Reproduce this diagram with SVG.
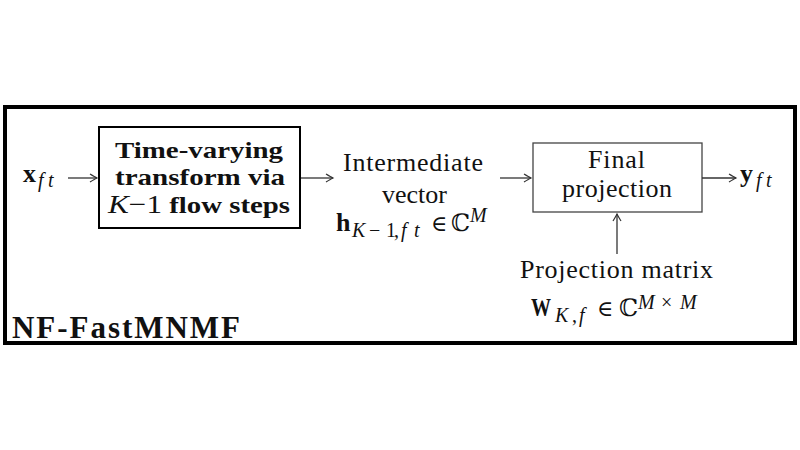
<svg xmlns="http://www.w3.org/2000/svg" width="800" height="450" viewBox="0 0 800 450" font-family="'Liberation Serif','DejaVu Serif',serif">
<style>
text{font-family:'Liberation Serif','DejaVu Serif',serif;fill:#111}
.rm{font-size:26px}
.bf{font-size:24px;font-weight:bold}
.sub{font-size:20px;font-style:italic}
.up{font-style:normal}
.mb{font-size:26px;font-weight:bold}
.edge{stroke:#333;stroke-width:1.3;fill:none;marker-end:url(#ah)}
</style>
<defs>
<marker id="ah" viewBox="-8 -5 10 10" refX="0" refY="0" markerWidth="10" markerHeight="10" markerUnits="userSpaceOnUse" orient="auto">
<path d="M-7,-4 Q-2,-1 0,0 Q-2,1 -7,4" fill="none" stroke="#333" stroke-width="1.2"/>
</marker>
</defs>
<rect width="800" height="450" fill="#fff"/>
<g id="frame">
<rect x="5" y="107" width="790" height="236" fill="none" stroke="#000" stroke-width="4"/>
<text x="12" y="338" style="font-size:31px;font-weight:bold" textLength="228" lengthAdjust="spacing">NF-FastMNMF</text>
</g>
<g id="input">
<text x="23" y="182" class="mb">x</text>
<text x="38 48" y="187" class="sub">ft</text>
</g>
<g id="transform">
<rect x="99" y="127" width="201" height="101" fill="#fff" stroke="#000" stroke-width="2"/>
<text x="115" y="158" class="bf" textLength="168" lengthAdjust="spacingAndGlyphs">Time-varying</text>
<text x="115" y="185" class="bf" textLength="170" lengthAdjust="spacingAndGlyphs">transform via</text>
<text x="108" y="213" class="bf" textLength="182" lengthAdjust="spacingAndGlyphs"><tspan style="font-weight:normal;font-style:italic;font-size:26px">K</tspan><tspan style="font-weight:normal;font-size:26px">−1</tspan> flow steps</text>
</g>
<g id="intermediate">
<text x="343" y="171" class="rm" textLength="140" lengthAdjust="spacing">Intermediate</text>
<text x="382" y="203" class="rm" textLength="65" lengthAdjust="spacing">vector</text>
<text x="336" y="231" class="mb">h</text>
<text x="352 369 386 394 401 414" y="237" class="sub">K<tspan class="up">−1,</tspan>ft</text>
<text x="431" y="231" style="font-size:22px">∈</text>
<text x="451" y="231" style="font-size:24px">ℂ</text>
<text x="470" y="222" class="sub">M</text>
</g>
<g id="projection">
<rect x="533" y="143" width="169" height="69" fill="#fff" stroke="#444" stroke-width="1.3"/>
<text x="588" y="168" class="rm" textLength="57" lengthAdjust="spacing">Final</text>
<text x="562" y="197" class="rm" textLength="110" lengthAdjust="spacing">projection</text>
</g>
<g id="matrix">
<text x="520" y="278" class="rm" textLength="193" lengthAdjust="spacing">Projection matrix</text>
<text x="531" y="316" style="font-size:25px;font-weight:bold" textLength="20" lengthAdjust="spacingAndGlyphs">W</text>
<text x="555 572 579" y="322" class="sub">K<tspan class="up">,</tspan>f</text>
<text x="597" y="316" style="font-size:22px">∈</text>
<text x="619" y="316" style="font-size:24px">ℂ</text>
<text x="638 661 680" y="309" class="sub">M<tspan class="up">×</tspan>M</text>
</g>
<g id="output">
<text x="740" y="182" class="mb">y</text>
<text x="756 766" y="187" class="sub">ft</text>
</g>
<g id="connectors">
<path class="edge" d="M68,178 H97"/>
<path class="edge" d="M301,178 H333"/>
<path class="edge" d="M500,178 H531"/>
<path class="edge" d="M702,178 H736"/>
<path class="edge" d="M617,254 V214"/>
</g>
</svg>
